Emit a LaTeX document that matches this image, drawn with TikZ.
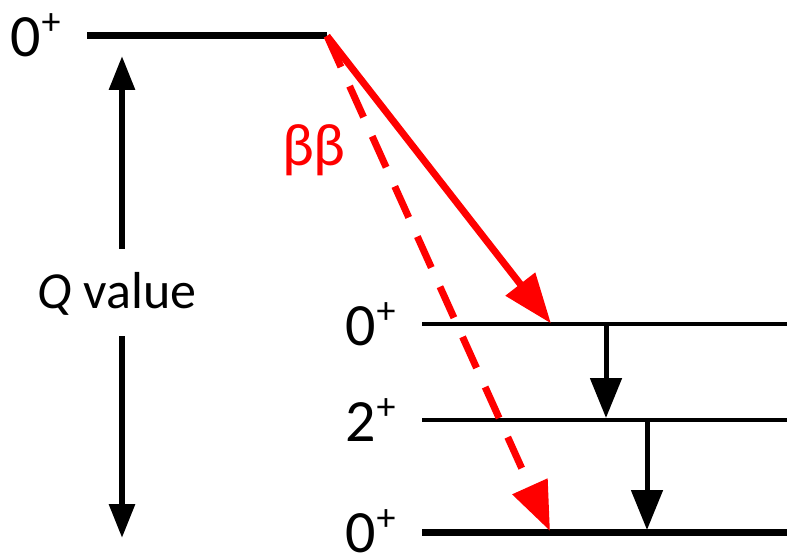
\documentclass[tikz,border=0pt]{standalone}
\usepackage{fontspec}
\setmainfont{Carlito}
\usetikzlibrary{arrows.meta}
\newcommand{\plussup}{\kern1pt\raisebox{22pt}{\fontsize{38}{40}\selectfont +}}
\begin{document}
\begin{tikzpicture}[x=1pt,y=-1pt,
  lvlthick/.style={line width=7pt},
  lvlthin/.style={line width=4pt},
  lbl/.style={anchor=base west,inner sep=0pt,font=\fontsize{60}{72}\selectfont},
  qarrow/.style={line width=6pt,-{Triangle[length=34pt,width=25pt]}},
  garrow/.style={line width=5pt,-{Triangle[length=40pt,width=31pt]}},
  bbarrow/.style={red,line width=7pt,-{Triangle[length=50pt,width=36pt]}},
  bbdash/.style={red,line width=7pt,dash pattern=on 34pt off 21pt,-{Triangle[length=49pt,width=37pt]}}
]
\useasboundingbox (0,0) rectangle (787,553);
% levels
\coordinate (t0L) at (87,36);  \coordinate (t0R) at (327,36);
\coordinate (a0L) at (422,323.5); \coordinate (a0R) at (787,323.5);
\coordinate (a2L) at (422,420); \coordinate (a2R) at (787,420);
\coordinate (g0L) at (422,532); \coordinate (g0R) at (787,532);
\draw[lvlthick] (t0L) -- (t0R);
\draw[lvlthin] (a0L) -- (a0R);
\draw[lvlthin] (a2L) -- (a2R);
\draw[lvlthick] (g0L) -- (g0R);
% labels
\node[lbl] (lt) at (10,57) {0\plussup};
\node[lbl] (la0) at (345,345) {0\plussup};
\node[lbl] (la2) at (345,441) {2\plussup};
\node[lbl] (lg0) at (345,552) {0\plussup};
% Q value
\node[inner sep=0pt,font=\fontsize{52}{62}\selectfont] (qv) at (117,294) {\textit{Q} value};
\coordinate (qup1) at (122,249); \coordinate (qup2) at (122,56);
\coordinate (qdn1) at (122,336); \coordinate (qdn2) at (122,538);
\draw[qarrow] (qup1) -- (qup2);
\draw[qarrow] (qdn1) -- (qdn2);
% beta beta
\coordinate (e1) at (551,323.5);
\coordinate (e2) at (550,531);
\draw[bbdash] (t0R) -- (e2);
\draw[bbarrow] (t0R) -- (e1);
\node[red,inner sep=0pt,font=\fontsize{60}{70}\selectfont] (bb) at (314,150) {ββ};
% gamma transitions
\coordinate (g1s) at (606,325); \coordinate (g1e) at (606,418);
\coordinate (g2s) at (647,422); \coordinate (g2e) at (647,530);
\draw[garrow] (g1s) -- (g1e);
\draw[garrow] (g2s) -- (g2e);
\end{tikzpicture}
\end{document}
